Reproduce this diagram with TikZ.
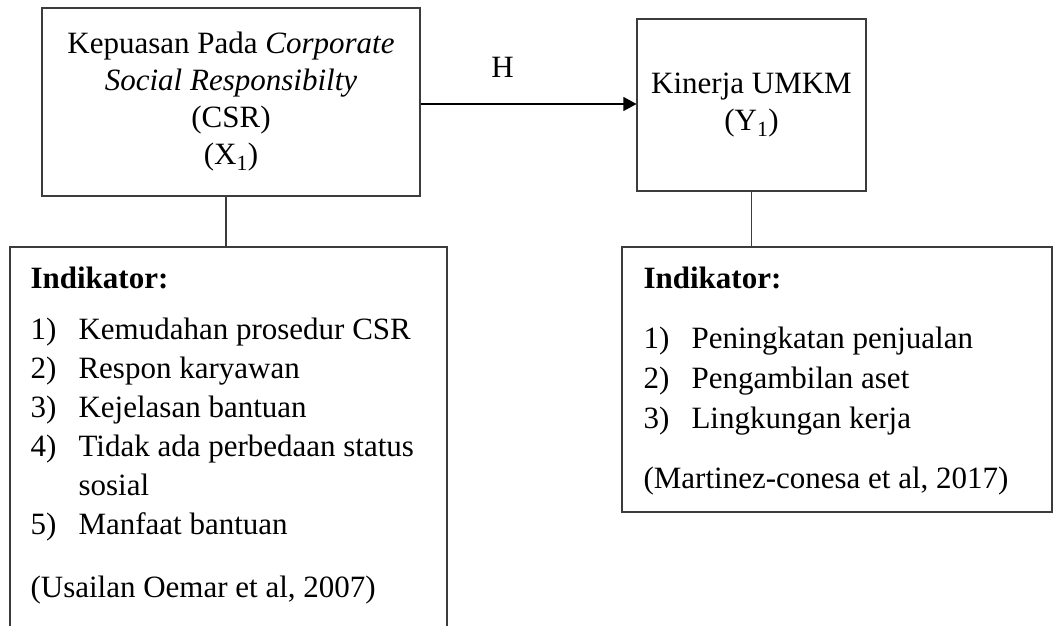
\documentclass[tikz,border=0pt]{standalone}
\usepackage{fontspec}
\setmainfont{Liberation Serif}
\usetikzlibrary{arrows,arrows.meta}
\usetikzlibrary{calc}
\definecolor{garis}{RGB}{60,60,60}
\newcommand{\butir}[1]{\makebox[48pt][l]{#1}}

\begin{document}
\begin{tikzpicture}[x=1pt, y=-1pt, garis, line width=1.1pt,
    kotak/.style={draw, inner sep=0pt, text=black},
    teks/.style={inner sep=0pt, text=black, font=\fontsize{31}{39}\selectfont}]

    \useasboundingbox (0,0) rectangle (1053,626);
    \clip (0,0) rectangle (1053,626);

    % variabel
    \node[kotak, minimum width=378pt, minimum height=188pt, align=center,
          font=\fontsize{31}{37}\selectfont] (csr) at (231,102)
        {Kepuasan Pada \textit{Corporate}\\ \textit{Social Responsibilty}\\ (CSR)\\ (X\textsubscript{1})};
    \node[kotak, minimum width=229pt, minimum height=172pt, align=center,
          font=\fontsize{31}{37}\selectfont] (kinerja) at (751.5,105)
        {Kinerja UMKM\\ (Y\textsubscript{1})};

    % indikator
    \node[kotak, minimum width=437pt, minimum height=420pt] (indx) at (228.5,457) {};
    \node[kotak, minimum width=430pt, minimum height=265pt] (indy) at (837,379.5) {};

    \node[teks, anchor=north west, align=left] (listx) at (30,266)
        {\textbf{Indikator:}\\[12pt]
         \butir{1)}Kemudahan prosedur CSR\\
         \butir{2)}Respon karyawan\\
         \butir{3)}Kejelasan bantuan\\
         \butir{4)}Tidak ada perbedaan status\\
         \butir{}sosial\\
         \butir{5)}Manfaat bantuan\\[24pt]
         (Usailan Oemar et al, 2007)};
    \node[teks, anchor=north west, align=left, font=\fontsize{31}{40}\selectfont] (listy) at (643,266)
        {\textbf{Indikator:}\\[20pt]
         \butir{1)}Peningkatan penjualan\\
         \butir{2)}Pengambilan aset\\
         \butir{3)}Lingkungan kerja\\[20pt]
         (Martinez-conesa et al, 2017)};

    % hubungan
    \draw[black, -{Triangle[length=13pt, width=14pt]}] (csr.east |- 0,104) -- (kinerja.west |- 0,104)
        node[teks, pos=0.38, above=26pt] (hipo) {H};
    \draw ([xshift=-5pt]csr.south) -- ([xshift=-5pt]csr.south |- indx.north);
    \draw (kinerja.south) -- (kinerja.south |- indy.north);

\end{tikzpicture}
\end{document}
